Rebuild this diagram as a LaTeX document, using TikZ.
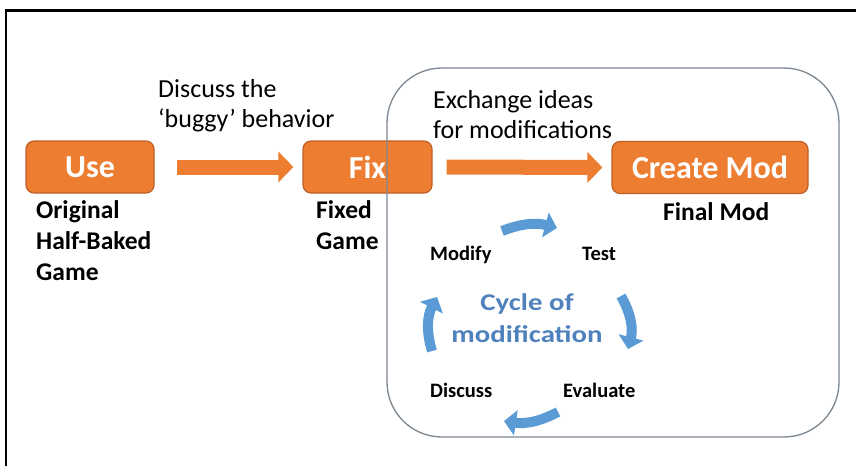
\documentclass[tikz,border=0pt]{standalone}
\usepackage{fontspec}
\setmainfont{Carlito}
\newfontfamily\widecarlito[FakeStretch=1.2]{Carlito}
\usetikzlibrary{arrows.meta}
\definecolor{modorange}{RGB}{237,125,49}
\definecolor{modedge}{RGB}{190,95,40}
\definecolor{cycblue}{RGB}{91,155,213}
\definecolor{cyctext}{RGB}{79,129,189}
\definecolor{loopgray}{RGB}{125,135,145}

\tikzset{
  stagebox/.style={draw=modedge, line width=1.2pt, fill=modorange, rounded corners=8pt,
    text=white, font=\fontsize{32}{36}\selectfont\bfseries, minimum height=52pt, inner sep=0pt},
  stagearrow/.style={draw=modorange, line width=15pt, -{Triangle[width=30pt,length=15pt]}},
  note/.style={align=left, anchor=base west, inner sep=0pt, font=\fontsize{26}{30}\selectfont},
  result/.style={align=left, anchor=base west, inner sep=0pt, font=\fontsize{25.5}{31}\selectfont\bfseries},
  phase/.style={anchor=base west, inner sep=0pt, font=\fontsize{20.5}{23}\selectfont\bfseries},
  cyclearrow/.style={draw=cycblue, line width=10pt, -{Triangle[width=25pt,length=12pt]}}
}

\begin{document}
\begin{tikzpicture}[x=1pt,y=1pt]

\useasboundingbox (0,0) rectangle (856,-466);
\fill[white] (0,0) rectangle (856,-466);
\draw[line width=2.5pt] (6,-466) -- (6,-10.5) -- (856,-10.5);

\node[stagebox, minimum width=128pt] (use) at (90,-167) {Use};
\node[stagebox, minimum width=129pt] (fix) at (367.5,-167) {Fix};
\node[stagebox, minimum width=196pt] (mod) at (710,-167.5) {Create Mod};

\node[draw=loopgray, line width=1.3pt, rounded corners=55pt, minimum width=452pt,
  minimum height=369pt] (loop) at (613,-252.5) {};

\draw[stagearrow] ([xshift=22pt]use.east) -- ([xshift=-9pt]fix.west);
\draw[stagearrow] ([xshift=14pt]fix.east) -- ([xshift=-9pt]mod.west);

\node[note] (bug) at (158,-127) {Discuss the\\`buggy' behavior};
\node[note] (ideas) at (433,-138) {Exchange ideas\\for modifications};

\node[result] (orig) at (36,-280) {Original\\Half-Baked\\Game};
\node[result] (fixed) at (316,-249) {Fixed\\Game};
\node[result] (final) at (663,-220) {Final Mod};

\node[phase] (modify) at (430,-260) {Modify};
\node[phase] (test) at (582,-260) {Test};
\node[phase] (discuss) at (430,-397) {Discuss};
\node[phase] (evaluate) at (563,-397) {Evaluate};

\node[align=center, text=cyctext, font=\fontsize{24}{32}\selectfont\widecarlito\bfseries] (cyc) at (527,-318) {Cycle of\\modification};

\coordinate (c1) at (502,-231);
\coordinate (c2) at (557,-228);
\coordinate (c3) at (621,-296);
\coordinate (c4) at (628,-349);
\coordinate (c5) at (558,-412);
\coordinate (c6) at (504,-421);
\coordinate (c7) at (432,-351);
\coordinate (c8) at (437,-297);

\draw[cyclearrow] (c1) to[bend left=18] (c2);
\draw[cyclearrow] (c3) to[bend left=22] (c4);
\draw[cyclearrow] (c5) to[bend left=18] (c6);
\draw[cyclearrow] (c7) to[bend left=22] (c8);

\end{tikzpicture}
\end{document}
